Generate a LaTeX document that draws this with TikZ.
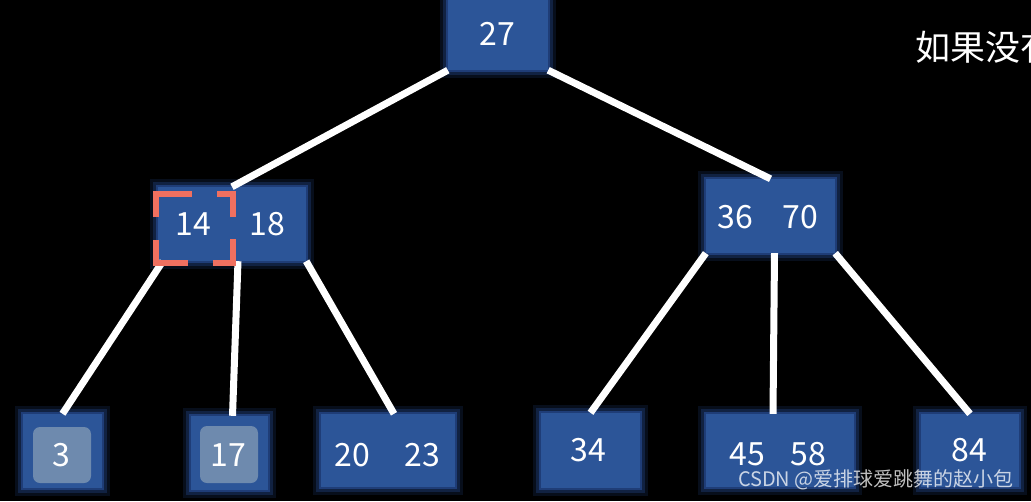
\documentclass[tikz,border=0pt]{standalone}
\usepackage{fontspec}
\setmainfont{Noto Sans CJK SC}
\usetikzlibrary{positioning}

\definecolor{boxblue}{RGB}{44,85,152}
\definecolor{glowblue}{RGB}{50,95,185}
\definecolor{keylight}{RGB}{110,138,174}
\definecolor{markred}{RGB}{240,112,96}

\tikzset{
  keybox/.style={rectangle, fill=boxblue, inner sep=0pt,
    preaction={draw=glowblue, line width=16pt, opacity=0.15},
    preaction={draw=glowblue, line width=10pt, opacity=0.25},
    preaction={draw=glowblue, line width=4pt, opacity=0.45}},
  keyhi/.style={rectangle, fill=keylight, rounded corners=7pt, inner sep=0pt},
  keytxt/.style={text=white, inner sep=0pt, text height=23pt, text depth=0pt,
    font=\fontsize{32}{38}\selectfont},
  edge/.style={draw=white, line width=7pt},
  bracket/.style={draw=markred, line width=6pt, line join=miter}
}

\begin{document}
\begin{tikzpicture}[x=1pt, y=-1pt]
    % Background
    \fill[black] (0,0) rectangle (1031,501);
    \useasboundingbox (0,0) rectangle (1031,501);
    \clip (0,0) rectangle (1031,501);

    % Boxes {root, inner nodes, leaves}
    \node [keybox, minimum width=100pt, minimum height=76pt]  (root)     at (498,32)    {};
    \node [keybox, minimum width=148pt, minimum height=74pt]  (k1418)    at (232,224)   {};
    \node [keybox, minimum width=129pt, minimum height=74pt]  (k3670)    at (770.5,216) {};
    \node [keybox, minimum width=79pt,  minimum height=74pt]  (leaf3)    at (62.5,451)  {};
    \node [keybox, minimum width=77pt,  minimum height=74pt]  (leaf17)   at (229.5,453) {};
    \node [keybox, minimum width=134pt, minimum height=73pt]  (leaf2023) at (388,450.5) {};
    \node [keybox, minimum width=99pt,  minimum height=75pt]  (leaf34)   at (590.5,450.5) {};
    \node [keybox, minimum width=148pt, minimum height=73pt]  (leaf4558) at (780,450.5) {};
    \node [keybox, minimum width=98pt,  minimum height=73pt]  (leaf84)   at (970,450.5) {};

    % Edges
    \draw[edge] (root.south west)            -- (k1418.north);
    \draw[edge] (root.south east)            -- (k3670.north);
    \draw[edge] ([xshift=5pt]k1418.south west) -- (leaf3.north);
    \draw[edge] ([xshift=6pt]k1418.south)    -- ([xshift=3pt]leaf17.north);
    \draw[edge] (k1418.south east)           -- ([xshift=6pt]leaf2023.north);
    \draw[edge] (k3670.south west)           -- (leaf34.north);
    \draw[edge] ([xshift=4pt]k3670.south)    -- ([xshift=-7pt]leaf4558.north);
    \draw[edge] (k3670.south east)           -- (leaf84.north);

    % Highlighted keys
    \node [keyhi, minimum width=58pt, minimum height=56pt] (hi3)  at (62,455)    {};
    \node [keyhi, minimum width=58pt, minimum height=57pt] (hi17) at (229,454.5) {};

    % Keys
    \node [keytxt] (t27) at (497,34)  {27};
    \node [keytxt] (t14) at (193,224) {14};
    \node [keytxt] (t18) at (267,224) {18};
    \node [keytxt] (t36) at (735,217) {36};
    \node [keytxt] (t70) at (800,217) {70};
    \node [keytxt] (t3)  at (61,455)  {3};
    \node [keytxt] (t17) at (228,455) {17};
    \node [keytxt] (t20) at (352,455) {20};
    \node [keytxt] (t23) at (422,455) {23};
    \node [keytxt] (t34) at (588,450) {34};
    \node [keytxt] (t45) at (747,454) {45};
    \node [keytxt] (t58) at (808,454) {58};
    \node [keytxt] (t84) at (969,450) {84};

    % Dashed selection round 14
    \node [minimum width=77pt, minimum height=69pt, inner sep=0pt] (sel) at (194.5,228.5) {};
    \draw[bracket] (sel.north west) ++(0,23) -- ++(0,-23) -- ++(36,0);
    \draw[bracket] (sel.north east) ++(-16,0) -- ++(16,0) -- ++(0,23);
    \draw[bracket] (sel.south west) ++(0,-23) -- ++(0,23) -- ++(32,0);
    \draw[bracket] (sel.south east) ++(-20,0) -- ++(20,0) -- ++(0,-24);

    % Texts
    \node [anchor=west, text=white, inner sep=0pt, font=\fontsize{35}{40}\selectfont] (note) at (915,47) {如果没有};
    \node [anchor=south east, text=white, opacity=0.75, inner sep=0pt, font=\fontsize{20}{24}\selectfont] (mark) at (1014,490) {CSDN @爱排球爱跳舞的赵小包};
\end{tikzpicture}
\end{document}
